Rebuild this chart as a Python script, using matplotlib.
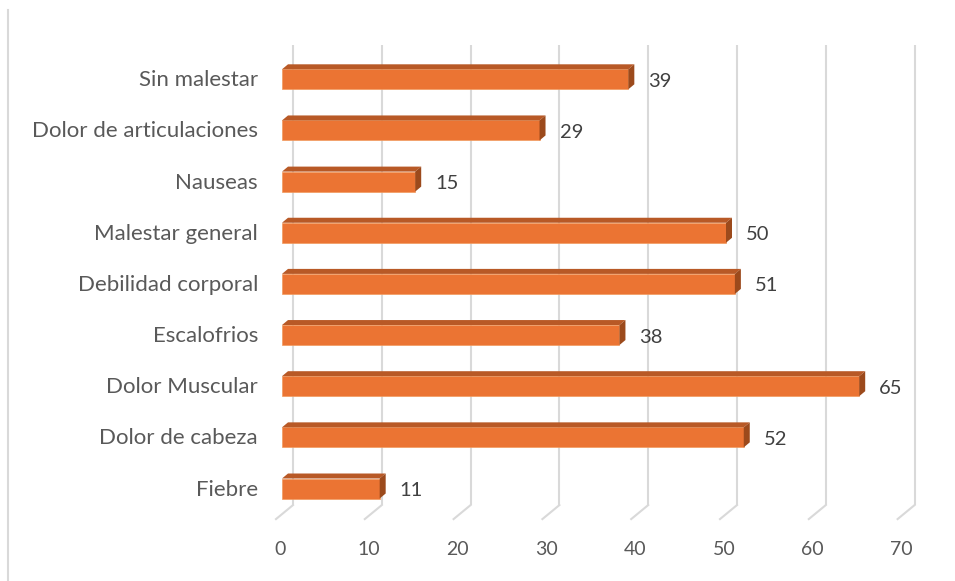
import matplotlib
matplotlib.use("Agg")
import matplotlib.pyplot as plt
from matplotlib.patches import Polygon
from matplotlib.lines import Line2D

plt.rcParams['font.family'] = ['Lato', 'DejaVu Sans']

# Datos
categorias = ["Fiebre", "Dolor de cabeza", "Dolor Muscular", "Escalofrios",
              "Debilidad corporal", "Malestar general", "Nauseas",
              "Dolor de articulaciones", "Sin malestar"]
valores = [11, 52, 65, 38, 51, 50, 15, 29, 39]
ticks = [0, 10, 20, 30, 40, 50, 60, 70]

naranja = "#EB7433"
naranja_sup = "#B85926"
naranja_lado = "#9C4A1C"
gris_rejilla = "#D9D9D9"
gris_texto = "#404040"
gris_ejes = "#595959"

W, H = 955, 581
fig = plt.figure(figsize=(W / 100, H / 100), dpi=100)

# plano de las barras en pixeles
x_ini, x_fin = 282.0, 903.6
paso = 51.15
y_primera = 488.5
ax = fig.add_axes([x_ini / W, (H - (y_primera + paso / 2)) / H,
                   (x_fin - x_ini) / W, 9 * paso / H])
ax.set_xlim(0, 70)
ax.set_ylim(-0.5, 8.5)
ax.axis("off")

sx = (x_fin - x_ini) / 70.0
def px_x(p):
    return p / sx
def px_y(p):
    return p / paso

# profundidad 3D
prof_x, prof_y = px_x(6), px_y(5)
fondo_x, fondo_y = px_x(11), px_y(9)
frente_x, frente_y = px_x(6), px_y(5)

# rejilla: pared del fondo y piso inclinado
for t in ticks:
    ax.plot([t + fondo_x, t + fondo_x], [-0.5 + fondo_y, 8.5 + fondo_y],
            color=gris_rejilla, lw=1.5, clip_on=False, zorder=1,
            solid_capstyle="butt")
    ax.plot([t + fondo_x, t - frente_x], [-0.5 + fondo_y, -0.5 - frente_y],
            color=gris_rejilla, lw=1.5, clip_on=False, zorder=1)
    ax.text(t - px_x(2), -0.5 - px_y(35), str(t), ha="center", va="center",
            fontsize=14, color=gris_ejes)

alto = 20 / paso
ys = list(range(len(categorias)))
ax.barh(ys, valores, height=alto, color=naranja, edgecolor="#F29A5E",
        linewidth=0.5, zorder=3, clip_on=False)

for y, v, nombre in zip(ys, valores, categorias):
    arriba = y + alto / 2
    abajo = y - alto / 2
    sup = Polygon([(0, arriba), (v, arriba), (v + prof_x, arriba + prof_y),
                   (prof_x, arriba + prof_y)], closed=True,
                  facecolor=naranja_sup, edgecolor="none", zorder=3, clip_on=False)
    lado = Polygon([(v, abajo), (v, arriba), (v + prof_x, arriba + prof_y),
                    (v + prof_x, abajo + prof_y)], closed=True,
                   facecolor=naranja_lado, edgecolor="none", zorder=3, clip_on=False)
    ax.add_patch(sup)
    ax.add_patch(lado)
    ax.text(v + px_x(20), y - px_y(2), str(v), ha="left", va="center",
            fontsize=14.5, color=gris_texto, zorder=4)
    ax.text(-px_x(24), y - px_y(1), nombre, ha="right", va="center",
            fontsize=16, color=gris_ejes)

# borde izquierdo del area del grafico
fig.add_artist(Line2D([8 / W, 8 / W], [0, 1 - 10 / H], color=gris_rejilla, lw=1.5))

fig.savefig("out.png", dpi=100, facecolor="white")
